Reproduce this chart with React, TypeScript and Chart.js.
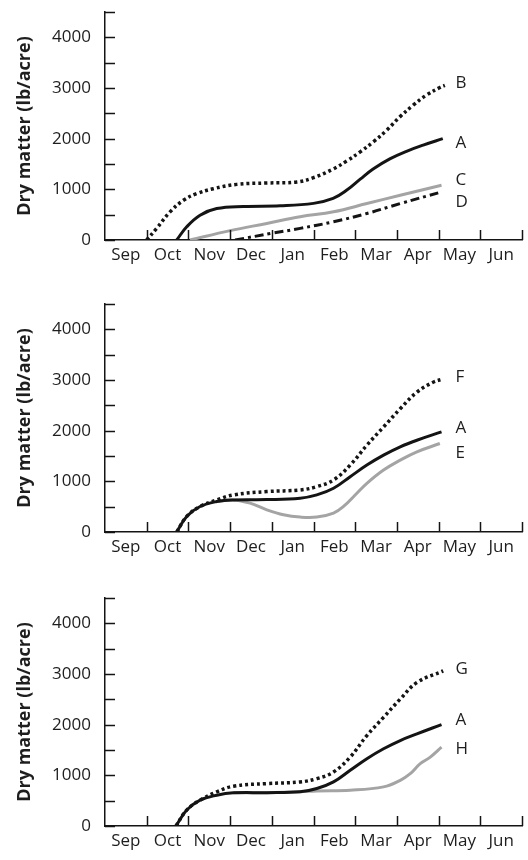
import React, { useEffect, useRef } from "react";
import { Chart, registerables } from "chart.js";

Chart.register(...registerables);

const months = ["Sep", "Oct", "Nov", "Dec", "Jan", "Feb", "Mar", "Apr", "May", "Jun"];
const yTickValues = [0, 1000, 2000, 3000, 4000];
const yMinorTicks = [0, 500, 1000, 1500, 2000, 2500, 3000, 3500, 4000, 4500];
const yTitle = "Dry matter (lb/acre)";

// Panel 1
const p1A_x = [1.72, 1.96, 2.28, 2.68, 3.32, 4.2, 5.0, 5.47, 5.8, 6.12, 6.43, 6.83, 7.23, 7.63, 8.1];
const p1A_y = [0, 261, 490, 621, 662, 675, 723, 821, 985, 1200, 1400, 1600, 1750, 1872, 2000];
const p1B_x = [1.0, 1.24, 1.56, 1.88, 2.2, 2.6, 3.16, 3.88, 4.6, 5.0, 5.47, 5.8, 6.12, 6.44, 6.76, 7.07, 7.39, 7.71, 8.03, 8.15];
const p1B_y = [0, 230, 555, 784, 915, 1013, 1098, 1125, 1145, 1230, 1400, 1560, 1740, 1940, 2170, 2430, 2660, 2860, 3010, 3050];
const p1C_x = [2.04, 3.0, 3.88, 4.68, 5.48, 6.28, 7.08, 8.07];
const p1C_y = [0, 185, 327, 458, 556, 719, 883, 1079];
const p1D_x = [3.12, 4.03, 4.68, 5.48, 6.28, 7.08, 8.07];
const p1D_y = [0, 137, 229, 360, 523, 719, 948];

// Panel 2
const p2A_x = [1.72, 1.96, 2.28, 2.68, 3.08, 3.88, 4.68, 5.08, 5.48, 5.88, 6.28, 6.68, 7.08, 7.48, 8.07];
const p2A_y = [0, 307, 503, 601, 634, 640, 667, 732, 863, 1092, 1321, 1517, 1681, 1811, 1975];
const p2F_x = [1.72, 1.96, 2.28, 2.68, 3.08, 3.88, 4.68, 5.08, 5.48, 5.88, 6.28, 6.68, 7.08, 7.48, 7.87, 8.11];
const p2F_y = [0, 307, 503, 634, 732, 798, 830, 896, 1027, 1321, 1713, 2073, 2433, 2760, 2956, 3021];
const p2E_x = [2.68, 3.08, 3.48, 3.88, 4.28, 4.68, 5.08, 5.48, 5.72, 6.04, 6.28, 6.68, 7.08, 7.48, 8.03];
const p2E_y = [601, 634, 569, 438, 340, 294, 294, 373, 504, 765, 961, 1223, 1419, 1583, 1746];

// Panel 3
const p3A_x = [1.7, 1.96, 2.28, 2.68, 3.08, 3.88, 4.68, 5.08, 5.48, 5.88, 6.28, 6.68, 7.08, 7.48, 8.07];
const p3A_y = [0, 314, 510, 608, 654, 658, 674, 739, 870, 1099, 1328, 1524, 1687, 1818, 2001];
const p3G_x = [1.7, 1.96, 2.28, 2.68, 3.08, 3.88, 4.68, 5.08, 5.48, 5.88, 6.28, 6.68, 7.08, 7.48, 8.11];
const p3G_y = [0, 314, 510, 674, 785, 837, 870, 935, 1066, 1360, 1785, 2145, 2505, 2832, 3061];
const p3H_x = [3.08, 3.88, 4.68, 5.08, 5.88, 6.68, 7.08, 7.32, 7.56, 7.8, 8.07];
const p3H_y = [654, 658, 674, 693, 706, 772, 902, 1033, 1230, 1360, 1556];

const FONT = "'Open Sans', sans-serif";
const BLACK = "#141414";
const GRAY = "#a4a4a4";
const TEXT = "#1e1e1e";

type Style = "solid" | "dotted" | "dashdot" | "gray";

function pts(xs: number[], ys: number[]) {
  return xs.map((x, i) => ({ x, y: ys[i] }));
}

function ds(label: string, xs: number[], ys: number[], style: Style, labelDy: number) {
  const base: any = {
    label,
    data: pts(xs, ys),
    borderColor: style === "gray" ? GRAY : BLACK,
    borderWidth: style === "dotted" ? 3.5 : 3,
    pointRadius: 0,
    fill: false,
    tension: 0.4,
    borderCapStyle: "butt",
    endLabelDy: labelDy,
  };
  if (style === "dotted") base.borderDash = [3, 3];
  if (style === "dashdot") base.borderDash = [9, 4, 3, 4];
  return base;
}

const inwardTicks = {
  id: "inwardTicks",
  afterDatasetsDraw(chart: any) {
    const { ctx, scales, chartArea } = chart;
    const xs = scales.x;
    const ys = scales.y;
    ctx.save();
    ctx.strokeStyle = BLACK;
    ctx.lineWidth = 1.5;
    ctx.beginPath();
    for (let m = 1; m <= months.length; m++) {
      const px = Math.round(xs.getPixelForValue(m)) + 0.5;
      ctx.moveTo(px, chartArea.bottom);
      ctx.lineTo(px, chartArea.bottom - 10);
    }
    for (const v of yMinorTicks) {
      const py = Math.round(ys.getPixelForValue(v)) + 0.5;
      ctx.moveTo(chartArea.left, py);
      ctx.lineTo(chartArea.left + 10, py);
    }
    ctx.stroke();
    // end labels
    ctx.fillStyle = TEXT;
    ctx.font = `17px ${FONT}`;
    ctx.textBaseline = "middle";
    ctx.textAlign = "left";
    chart.data.datasets.forEach((d: any, i: number) => {
      const meta = chart.getDatasetMeta(i);
      const last = meta.data[meta.data.length - 1];
      if (!last) return;
      const lx = xs.getPixelForValue(8.12) + 12;
      ctx.fillText(d.label, lx, last.y + (d.endLabelDy || 0));
    });
    ctx.restore();
  },
};

function Panel({ datasets, top }: { datasets: any[]; top: number }) {
  const ref = useRef<HTMLCanvasElement>(null);
  useEffect(() => {
    if (!ref.current) return;
    const chart = new Chart(ref.current, {
      type: "line",
      data: { datasets },
      options: {
        animation: false,
        responsive: false,
        maintainAspectRatio: false,
        devicePixelRatio: 1,
        layout: { padding: { top: 12, left: 0, right: 6, bottom: 0 } },
        plugins: { legend: { display: false }, tooltip: { enabled: false } },
        scales: {
          x: {
            type: "linear",
            min: 0,
            max: months.length,
            afterFit: (s: any) => {
              s.height = 34;
              s.paddingLeft = 0;
              s.paddingRight = 0;
            },
            afterBuildTicks: (s: any) => {
              s.ticks = months.map((_, i) => ({ value: i + 0.5 }));
            },
            grid: { display: false, drawTicks: false },
            border: { display: true, color: BLACK, width: 1.5 },
            ticks: {
              autoSkip: false,
              maxRotation: 0,
              padding: 5,
              color: TEXT,
              font: { family: FONT, size: 17 },
              callback: (v: any) => months[Math.floor(Number(v))],
            },
          },
          y: {
            type: "linear",
            min: 0,
            max: 4500,
            afterFit: (s: any) => {
              s.width = 105;
              s.paddingTop = 0;
              s.paddingBottom = 0;
            },
            afterBuildTicks: (s: any) => {
              s.ticks = yTickValues.map((v) => ({ value: v }));
            },
            grid: { display: false, drawTicks: false },
            border: { display: true, color: BLACK, width: 1.5 },
            title: {
              display: true,
              text: yTitle,
              color: TEXT,
              font: { family: FONT, size: 18, weight: "bold" },
              padding: { top: 14, bottom: 0 },
            },
            ticks: {
              padding: 14,
              color: TEXT,
              font: { family: FONT, size: 17 },
              callback: (v: any) => String(v),
            },
          },
        },
      },
      plugins: [inwardTicks],
    } as any);
    return () => chart.destroy();
  }, []);
  return (
    <canvas
      ref={ref}
      width={528}
      height={274}
      style={{ position: "absolute", left: 0, top, width: 528, height: 274 }}
    />
  );
}

const panel1 = [
  ds("B", p1B_x, p1B_y, "dotted", -2),
  ds("A", p1A_x, p1A_y, "solid", 4),
  ds("C", p1C_x, p1C_y, "gray", -5),
  ds("D", p1D_x, p1D_y, "dashdot", 10),
];
const panel2 = [
  ds("F", p2F_x, p2F_y, "dotted", -2),
  ds("A", p2A_x, p2A_y, "solid", -4),
  ds("E", p2E_x, p2E_y, "gray", 10),
];
const panel3 = [
  ds("G", p3G_x, p3G_y, "dotted", -2),
  ds("A", p3A_x, p3A_y, "solid", -4),
  ds("H", p3H_x, p3H_y, "gray", 2),
];

export default function App() {
  return (
    <div style={{ position: "absolute", left: 0, top: 0, width: 528, height: 860, overflow: "hidden", background: "#fff" }}>
      <Panel datasets={panel1} top={0} />
      <Panel datasets={panel2} top={292} />
      <Panel datasets={panel3} top={586} />
    </div>
  );
}
